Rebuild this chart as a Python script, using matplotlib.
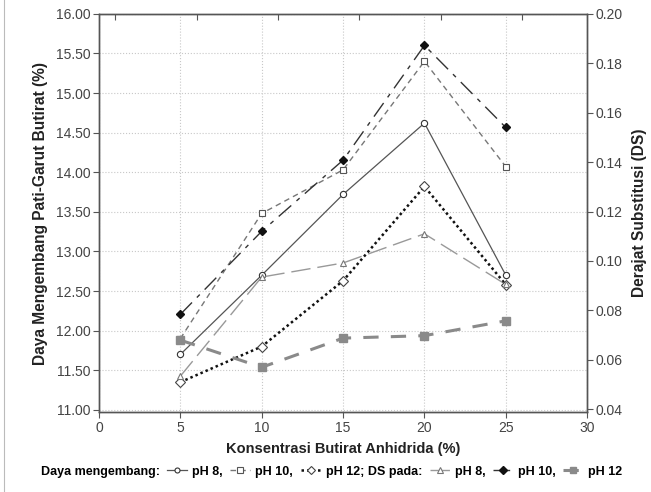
import numpy as np
from matplotlib import pyplot as plt
from matplotlib.lines import Line2D
from matplotlib.ticker import FormatStrFormatter, MultipleLocator

plt.rcParams["font.family"] = ["Liberation Sans", "DejaVu Sans"]

konsentrasi = [5, 10, 15, 20, 25]

# Daya mengembang (%)
swell_ph8 = [11.70, 12.70, 13.72, 14.62, 12.70]
swell_ph10 = [11.90, 13.48, 14.03, 15.40, 14.07]
swell_ph12 = [11.35, 11.80, 12.63, 13.82, 12.58]

# Derajat substitusi
ds_ph8 = [0.0534, 0.0935, 0.0992, 0.1110, 0.0905]
ds_ph10 = [0.0784, 0.1120, 0.1408, 0.1872, 0.1540]
ds_ph12 = [0.0680, 0.0570, 0.0688, 0.0698, 0.0758]

fig = plt.figure(figsize=(6.51, 4.92), dpi=100)
ax = fig.add_axes([0.152, 0.162, 0.750, 0.810])
ax2 = ax.twinx()

label_font = {"family": ["Liberation Sans Narrow", "Liberation Sans", "DejaVu Sans"],
              "weight": "bold", "size": 10.5, "color": "#222222"}

style = {"color": "#555555", "linewidth": 0.9, "linestyle": "-",
         "marker": "o", "markersize": 4.5, "markerfacecolor": "white",
         "markeredgecolor": "#333333", "markeredgewidth": 0.8}
l1, = ax.plot(konsentrasi, swell_ph8, **style)

style = {"color": "#777777", "linewidth": 1.0, "linestyle": (0, (4, 3)),
         "marker": "s", "markersize": 5, "markerfacecolor": "white",
         "markeredgecolor": "#555555", "markeredgewidth": 0.8}
l2, = ax.plot(konsentrasi, swell_ph10, **style)

style = {"color": "#111111", "linewidth": 1.8, "linestyle": (0, (1, 1.2)),
         "marker": "D", "markersize": 5, "markerfacecolor": "white",
         "markeredgecolor": "#444444", "markeredgewidth": 0.8}
l3, = ax.plot(konsentrasi, swell_ph12, **style)

style = {"color": "#999999", "linewidth": 1.0, "linestyle": (0, (14, 5)),
         "marker": "^", "markersize": 5, "markerfacecolor": "white",
         "markeredgecolor": "#777777", "markeredgewidth": 0.8}
l4, = ax2.plot(konsentrasi, ds_ph8, **style)

style = {"color": "#333333", "linewidth": 1.0, "linestyle": (0, (12, 5, 3, 5)),
         "marker": "D", "markersize": 4.5, "markerfacecolor": "#111111",
         "markeredgecolor": "#111111"}
l5, = ax2.plot(konsentrasi, ds_ph10, **style)

style = {"color": "#8a8a8a", "linewidth": 2.2, "linestyle": (0, (5, 4)),
         "marker": "s", "markersize": 6, "markerfacecolor": "#8a8a8a",
         "markeredgecolor": "#8a8a8a"}
l6, = ax2.plot(konsentrasi, ds_ph12, **style)

ax.set_xlim(0, 30)
ax.set_ylim(10.97, 16.0)
ax2.set_ylim(0.0388, 0.20)

ax.xaxis.set_major_locator(MultipleLocator(5))
ax.yaxis.set_major_locator(MultipleLocator(0.5))
ax.yaxis.set_major_formatter(FormatStrFormatter("%.2f"))
ax2.yaxis.set_major_locator(MultipleLocator(0.02))
ax2.yaxis.set_major_formatter(FormatStrFormatter("%.2f"))

ax.grid(True, color="#c8c8c8", linestyle=":", linewidth=0.8)
ax.set_axisbelow(True)

for a in [ax, ax2]:
    for spine in a.spines.values():
        spine.set_color("#555555")
        spine.set_linewidth(1.0)
    a.tick_params(labelsize=10, labelcolor="#444444", color="#555555",
                  length=4, width=0.8, pad=2)

top = ax.secondary_xaxis("top")
top.set_xticks([1, 6, 11, 16, 21, 26])
top.tick_params(direction="in", length=4, color="#555555", labeltop=False)
top.spines["top"].set_visible(False)

ax.set_xlabel("Konsentrasi Butirat Anhidrida (%)", fontdict=label_font, labelpad=5)
ax.set_ylabel("Daya Mengembang Pati-Garut Butirat (%)",
              fontdict={**label_font, "size": 11.2}, labelpad=6)
ax2.set_ylabel("Derajat Substitusi (DS)",
               fontdict={**label_font, "size": 11.2}, labelpad=7)

blank = Line2D([], [], linestyle="none")
handles = [blank, l1, l2, l3, l4, l5, l6]
labels = ["Daya mengembang:", "pH 8,", "pH 10,", "pH 12; DS pada:",
          "pH 8,", "pH 10,", "pH 12"]
fig.legend(handles, labels, loc="center", bbox_to_anchor=(0.49, 0.041),
           ncol=7, frameon=False, handlelength=1.6, handletextpad=0.4,
           columnspacing=0.6, markerscale=0.8,
           prop={"family": ["Liberation Sans Narrow", "Liberation Sans", "DejaVu Sans"],
                 "weight": "bold", "size": 9})

# thin border at the left edge of the scanned figure
fig.add_artist(Line2D([0.006, 0.006], [0.0, 1.0], color="#bbbbbb",
                      linewidth=0.8, transform=fig.transFigure))

fig.savefig("out.png", dpi=100)
